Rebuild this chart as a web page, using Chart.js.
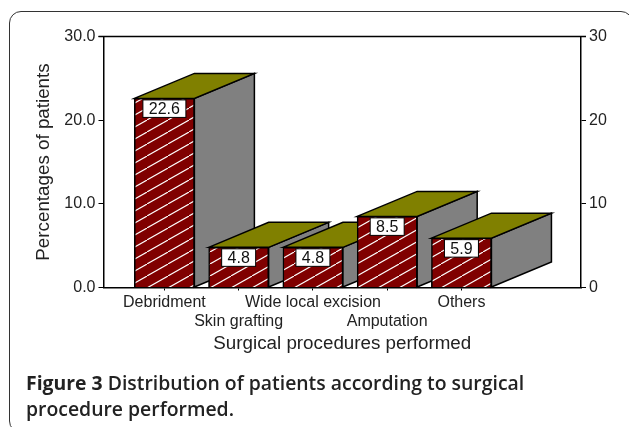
<!DOCTYPE html>
<html>
<head>
<meta charset="utf-8">
<script src="https://cdn.jsdelivr.net/npm/chart.js@4/dist/chart.umd.min.js"></script>
<style>
  html, body { margin: 0; padding: 0; background: #fff; }
  #wrap { position: relative; width: 629px; height: 427px; overflow: hidden; }
  #frame { position: absolute; left: 9px; top: 10.5px; width: 622px; height: 420px; border: 1.5px solid #333; border-radius: 12px; }
  #bar-chart { position: absolute; left: 0; top: 0; }
  #caption { position: absolute; left: 26px; top: 370px; width: 600px; font: 700 19.4px/25.5px "Open Sans", sans-serif; color: #222; white-space: nowrap; }
</style>
</head>
<body>
<div id="wrap">
  <div id="frame"></div>
  <canvas id="bar-chart" width="629" height="427"></canvas>
  <div id="caption">Figure 3 <span style="font-weight:600">Distribution of patients according to surgical</span><br><span style="font-weight:600">procedure performed.</span></div>
</div>
<script>
const categories = ['Debridment', 'Skin grafting', 'Wide local excision', 'Amputation', 'Others'];
const percentages = [22.6, 4.8, 4.8, 8.5, 5.9];
const yTicks = [0, 10, 20, 30];

// diagonal white hatch for the front of the bars
function hatch() {
  const c = document.createElement('canvas');
  c.width = 21; c.height = 12;
  const g = c.getContext('2d');
  g.fillStyle = '#800000';
  g.fillRect(0, 0, 21, 12);
  g.strokeStyle = '#fff';
  g.lineWidth = 1.1;
  g.beginPath();
  g.moveTo(-3.5, 14); g.lineTo(24.5, -2);
  g.stroke();
  return g.createPattern(c, 'repeat');
}

function poly(ctx, pts, fill) {
  ctx.beginPath();
  pts.forEach((p, i) => i ? ctx.lineTo(p[0], p[1]) : ctx.moveTo(p[0], p[1]));
  ctx.closePath();
  ctx.fillStyle = fill;
  ctx.fill();
  ctx.stroke();
}

// fake 3D: side and top faces hang off each bar, then the front goes back on top
const bars3d = {
  id: 'bars3d',
  afterDatasetsDraw(chart) {
    const ctx = chart.ctx;
    const dx = 60, dy = 25;
    ctx.save();
    ctx.lineWidth = 1.5;
    ctx.strokeStyle = '#000';
    chart.getDatasetMeta(0).data.forEach((bar, i) => {
      const l = bar.x - bar.width / 2, r = bar.x + bar.width / 2;
      poly(ctx, [[r, bar.base], [r + dx, bar.base - dy], [r + dx, bar.y - dy], [r, bar.y]], '#808080');
      poly(ctx, [[l, bar.y], [l + dx, bar.y - dy], [r + dx, bar.y - dy], [r, bar.y]], '#808000');
      bar.draw(ctx);
      // value label
      const txt = percentages[i].toFixed(1);
      ctx.font = '16px "Liberation Sans"';
      const w = Math.round(ctx.measureText(txt).width) + 12;
      ctx.fillStyle = '#fff';
      ctx.fillRect(bar.x - w / 2, bar.y + 1.5, w, 17.5);
      ctx.lineWidth = 1;
      ctx.strokeRect(bar.x - w / 2, bar.y + 1.5, w, 17.5);
      ctx.lineWidth = 1.5;
      ctx.fillStyle = '#111';
      ctx.textAlign = 'center';
      ctx.textBaseline = 'middle';
      ctx.fillText(txt, bar.x, bar.y + 11);
    });
    // top edge of the plot
    const a = chart.chartArea;
    ctx.beginPath();
    ctx.moveTo(a.left - 5, a.top);
    ctx.lineTo(a.right + 5, a.top);
    ctx.stroke();
    ctx.restore();
  }
};

const tickFont = { family: '"Liberation Sans"', size: 16 };
const titleFont = { family: '"Liberation Sans"', size: 18.8 };

new Chart(document.getElementById('bar-chart'), {
  type: 'bar',
  data: {
    datasets: [{
      data: percentages.map((v, i) => ({ x: i, y: v })),
      backgroundColor: hatch(),
      borderColor: '#000',
      borderWidth: 1.5,
      barThickness: 60
    }]
  },
  options: {
    responsive: false,
    animation: false,
    layout: { padding: { top: 36.5, bottom: 72 } },
    plugins: { legend: { display: false }, tooltip: { enabled: false } },
    scales: {
      x: {
        type: 'linear',
        offset: false,
        min: -0.82,
        max: 5.61,
        afterBuildTicks(s) { s.ticks = categories.map((c, i) => ({ value: i })); },
        afterFit(s) { s.height = 67.5; },
        border: { color: '#000', width: 1.5 },
        grid: { offset: false, drawOnChartArea: false, drawTicks: true, tickLength: 3, color: '#000' },
        ticks: {
          autoSkip: false,
          maxRotation: 0,
          padding: 2,
          color: '#222',
          font: tickFont,
          callback: v => v % 2 ? ['', categories[v]] : [categories[v], '']
        },
        title: { display: true, text: 'Surgical procedures performed', color: '#222', font: titleFont, padding: 0 }
      },
      y: {
        position: 'left',
        min: 0,
        max: 30,
        afterBuildTicks(s) { s.ticks = yTicks.map(v => ({ value: v })); },
        afterFit(s) { s.width = 103.5; },
        border: { color: '#000', width: 1.5 },
        grid: { drawOnChartArea: false, tickLength: 5, color: '#000' },
        ticks: { color: '#222', font: tickFont, padding: 3, callback: v => v.toFixed(1) },
        title: { display: true, text: 'Percentages of patients', color: '#222', font: titleFont, padding: { top: 33, bottom: 0 } }
      },
      y2: {
        position: 'right',
        min: 0,
        max: 30,
        afterBuildTicks(s) { s.ticks = yTicks.map(v => ({ value: v })); },
        afterFit(s) { s.width = 48; },
        border: { color: '#000', width: 1.5 },
        grid: { drawOnChartArea: false, tickLength: 5, color: '#000' },
        ticks: { color: '#222', font: tickFont, padding: 3 }
      }
    }
  },
  plugins: [bars3d]
});
</script>
</body>
</html>
